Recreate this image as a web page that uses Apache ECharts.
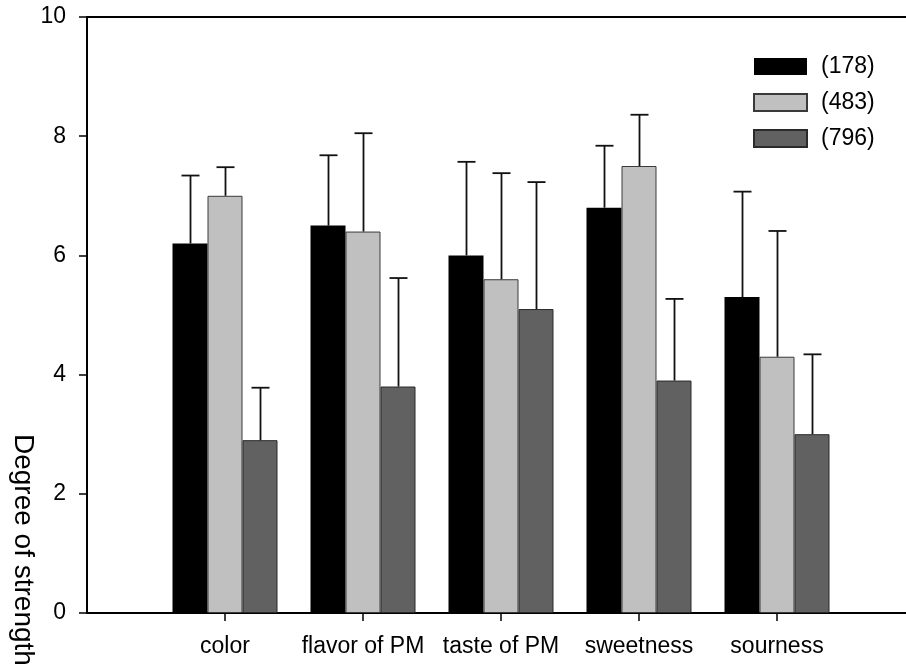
<!DOCTYPE html>
<html>
<head>
<meta charset="utf-8">
<script src="https://cdn.jsdelivr.net/npm/echarts@6/dist/echarts.min.js"></script>
<style>html,body{margin:0;padding:0;background:#fff;}#c{width:906px;height:665px;}</style>
</head>
<body>
<div id="c"></div>
<script>
var categories = ['', 'color', 'flavor of PM', 'taste of PM', 'sweetness', 'sourness', ''];
var seriesNames = ['(178)', '(483)', '(796)'];
var means178 = [null, 6.2, 6.5, 6.0, 6.8, 5.3, null];
var means483 = [null, 7.0, 6.4, 5.6, 7.5, 4.3, null];
var means796 = [null, 2.9, 3.8, 5.1, 3.9, 3.0, null];
var errTop178 = [null, 7.34, 7.68, 7.57, 7.84, 7.07, null];
var errTop483 = [null, 7.48, 8.05, 7.38, 8.36, 6.41, null];
var errTop796 = [null, 3.78, 5.62, 7.23, 5.27, 4.34, null];
var yTicks = [0, 2, 4, 6, 8, 10];

var FONT = 'Liberation Sans, Arial, sans-serif';
var colors = ['#000000', '#c0c0c0', '#616161'];
var borders = ['#000000', '#3a3a3a', '#2a2a2a'];
var BAR_W = 35;

var means = [means178, means483, means796];
var errs = [errTop178, errTop483, errTop796];
var errData = [];
for (var s = 0; s < 3; s++) {
  for (var i = 0; i < categories.length; i++) {
    if (means[s][i] != null) errData.push([i, means[s][i], errs[s][i], s]);
  }
}

var chart = echarts.init(document.getElementById('c'), null, {renderer: 'canvas'});
var barSeries = seriesNames.map(function (n, s) {
  return {
    name: n, type: 'bar', data: means[s], barWidth: BAR_W, barGap: '0%',
    itemStyle: {color: colors[s], borderColor: borders[s], borderWidth: s === 0 ? 0 : 1},
    emphasis: {disabled: true}, z: 2
  };
});
barSeries.push({
  type: 'custom', data: errData, z: 3, silent: true,
  renderItem: function (params, api) {
    var idx = api.value(0), s = api.value(3);
    var lo = api.coord([idx, api.value(1)]);
    var hi = api.coord([idx, api.value(2)]);
    var x = Math.round(lo[0] + (s - 1) * BAR_W) + 0.5;
    var st = {stroke: '#111', lineWidth: 1.8};
    return {type: 'group', children: [
      {type: 'line', shape: {x1: x, y1: lo[1], x2: x, y2: hi[1]}, style: st},
      {type: 'line', shape: {x1: x - 9, y1: hi[1], x2: x + 9, y2: hi[1]}, style: st}
    ]};
  }
});

chart.setOption({
  animation: false,
  backgroundColor: '#fff',
  textStyle: {fontFamily: FONT},
  grid: {left: 87, top: 17, width: 828, height: 596, containLabel: false, outerBoundsMode: 'none'},
  legend: {
    orient: 'vertical', left: 748, top: 50, itemWidth: 53, itemHeight: 17, itemGap: 13,
    data: seriesNames, icon: 'rect', selectedMode: false,
    textStyle: {fontSize: 23, color: '#000', fontFamily: FONT, padding: [0, 0, 0, 9]}
  },
  xAxis: [{
    type: 'category', data: categories, boundaryGap: false,
    axisLine: {lineStyle: {color: '#000', width: 2}},
    axisTick: {length: 8, lineStyle: {color: '#000', width: 1.5},
      interval: function (i) { return i >= 1 && i <= 5; }},
    axisLabel: {fontSize: 23, color: '#000', margin: 22, fontFamily: FONT, interval: 0},
    splitLine: {show: false}
  }, {
    type: 'category', data: categories, boundaryGap: false, position: 'top',
    axisLine: {lineStyle: {color: '#000', width: 2}},
    axisTick: {show: false}, axisLabel: {show: false}, splitLine: {show: false}
  }],
  yAxis: {
    type: 'value', min: 0, max: 10, interval: 2,
    axisLine: {show: true, lineStyle: {color: '#000', width: 2}},
    axisTick: {show: true, length: 8, lineStyle: {color: '#000', width: 1.5}},
    axisLabel: {fontSize: 23, color: '#000', margin: 21, fontFamily: FONT,
      formatter: function (v) { return yTicks.indexOf(v) >= 0 ? String(v) : ''; }},
    splitLine: {show: false}
  },
  graphic: [{
    type: 'text', x: 23, y: 434, rotation: -Math.PI / 2,
    style: {text: 'Degree of strength', fontSize: 28, fontFamily: FONT, fill: '#000',
      textAlign: 'left', textVerticalAlign: 'middle'}
  }],
  series: barSeries
});
</script>
</body>
</html>
